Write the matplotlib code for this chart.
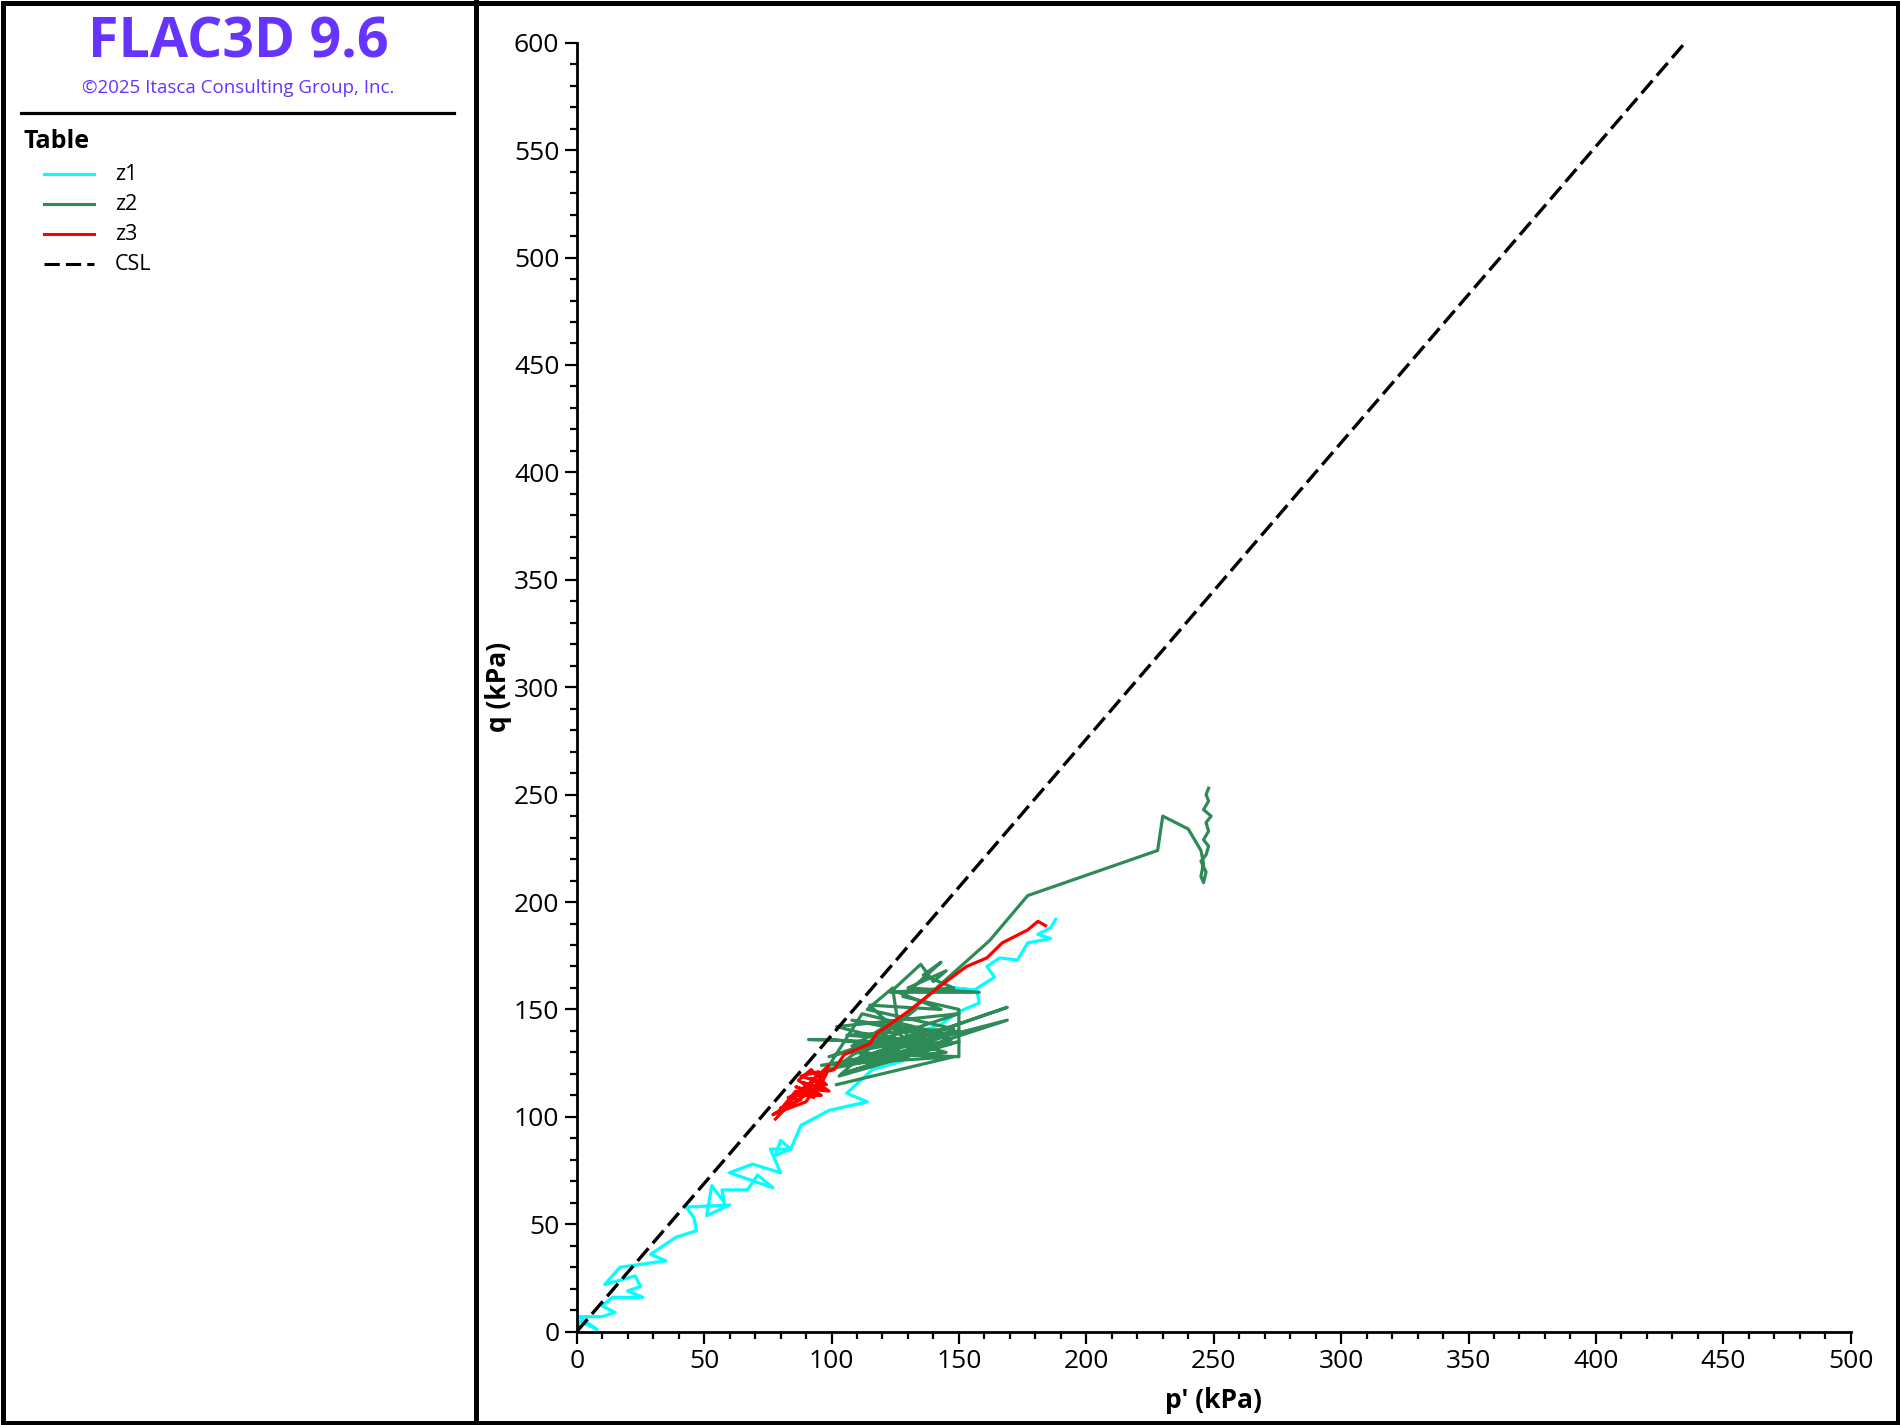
import matplotlib
matplotlib.use("Agg")
from matplotlib import pyplot as plt
from matplotlib.lines import Line2D
from matplotlib.patches import Rectangle
from matplotlib.ticker import MultipleLocator

# stress path data (p' and q in kPa)
z1_p = [0, 1, 8, 1, 10, 15, 10, 14, 26, 20, 25, 23, 11, 17, 35, 29, 39, 47, 46, 43,
        60, 51, 53, 58, 57, 67, 71, 77, 60, 69, 80, 76, 84, 78, 80, 84, 88, 99, 114,
        106, 116, 128, 136, 130, 143, 150, 158, 157, 148, 156, 164, 161, 166, 173,
        177, 186, 181, 186, 188]
z1_q = [0, 5, 1, 7, 7, 9, 12, 16, 16, 19, 21, 26, 22, 30, 33, 36, 44, 47, 53, 58,
        59, 54, 68, 60, 66, 66, 73, 67, 74, 78, 74, 85, 85, 82, 89, 85, 96, 103, 107,
        111, 122, 126, 140, 138, 143, 149, 153, 159, 160, 159, 165, 170, 174, 173,
        181, 183, 185, 188, 192]

z2_p = [102, 148, 96, 147, 91, 100, 135, 102, 150, 99, 138, 108, 147, 104, 169, 110,
        169, 103, 125, 124, 129, 106, 148, 114, 124, 126, 136, 115, 143, 124, 135,
        140, 145, 130, 158, 123, 148, 136, 143, 128, 150, 150, 106, 146, 112, 98,
        140, 118, 150, 108, 133, 120, 145, 105, 150, 103, 128, 162, 177,
        228, 230, 240, 245, 246, 245, 246, 247, 245, 247, 248, 246, 248, 247, 249,
        246, 248, 247, 248]
z2_q = [115, 128, 124, 134, 136, 136, 132, 142, 148, 128, 140, 145, 136, 120, 145, 127,
        151, 124, 144, 128, 136, 138, 141, 150, 160, 144, 128, 152, 150, 159, 171,
        163, 168, 160, 158, 158, 160, 166, 172, 156, 150, 128, 130, 138, 148, 122,
        132, 126, 140, 133, 150, 138, 130, 126, 135, 119, 146, 182, 203,
        224, 240, 234, 224, 218, 212, 209, 214, 219, 222, 226, 229, 233, 237, 240,
        243, 247, 250, 253]

z3_p = [78, 82, 77, 84, 80, 88, 83, 90, 86, 94, 89, 97, 92, 98, 88, 95, 91, 99, 93,
        85, 96, 87, 92, 97, 81, 90, 99, 79, 86, 93, 98, 95, 101, 105, 115, 118, 130,
        145, 153, 161, 167, 177, 181, 184]
z3_q = [99, 104, 101, 106, 104, 108, 109, 112, 114, 111, 116, 113, 118, 115, 119, 121,
        113, 112, 117, 110, 110, 117, 122, 116, 103, 107, 124, 102, 112, 109, 120,
        120, 122, 129, 134, 139, 149, 163, 170, 174, 181, 187, 191, 189]

csl_p = [0, 435]
csl_q = [0, 600]

series_labels = ["z1", "z2", "z3", "CSL"]
series_colors = ["#00FFFF", "#2E8B57", "#FF0000", "black"]

plt.rcParams["font.family"] = ["Open Sans", "DejaVu Sans"]

W, H = 1900, 1425
fig = plt.figure(figsize=(19, 14.25), dpi=100)


def fx(px):
    return px / W


def fy(py):
    return 1 - py / H


ax = fig.add_axes([fx(576.7), fy(1331.7), (1850.7 - 576.7) / W, (1331.7 - 42.7) / H])

csl_dash = (0, (5.0, 2.0))
ax.plot(z1_p, z1_q, color=series_colors[0], lw=2.3, zorder=2)
ax.plot(z2_p, z2_q, color=series_colors[1], lw=2.3, zorder=3)
ax.plot(z3_p, z3_q, color=series_colors[2], lw=2.3, zorder=4)
ax.plot(csl_p, csl_q, color=series_colors[3], lw=2.4, ls=csl_dash, zorder=5)

ax.set_xlim(0, 500)
ax.set_ylim(0, 600)
ax.xaxis.set_major_locator(MultipleLocator(50))
ax.xaxis.set_minor_locator(MultipleLocator(10))
ax.yaxis.set_major_locator(MultipleLocator(50))
ax.yaxis.set_minor_locator(MultipleLocator(10))
ax.spines["top"].set_visible(False)
ax.spines["right"].set_visible(False)
ax.spines["left"].set_linewidth(2)
ax.spines["bottom"].set_linewidth(2)
ax.tick_params(which="major", length=8.5, width=1.6, labelsize=19, pad=4)
ax.tick_params(which="minor", length=5, width=1.6)

ax.set_xlabel("p' (kPa)", fontsize=19, fontweight="bold", va="center")
ax.set_ylabel("q (kPa)", fontsize=19, fontweight="bold", va="center")
ax.xaxis.set_label_coords(0.5, -(1401 - 1331.7) / 1289)
ax.yaxis.set_label_coords((498 - 576.7) / 1274, 0.5)

# side panel: title, copyright and legend
fig.text(fx(238), fy(43), "FLAC3D 9.6", color="#6633FF", fontsize=40,
         fontweight="bold", ha="center", va="center")
fig.text(fx(238), fy(88), "\u00a92025 Itasca Consulting Group, Inc.", color="#6633FF",
         fontsize=13.5, ha="center", va="center")
fig.add_artist(Line2D([fx(21), fx(454)], [fy(113), fy(113)], color="black", lw=2.3))
fig.text(fx(23), fy(141), "Table", fontsize=18, fontweight="bold", ha="left", va="center")

styles = ["-", "-", "-", csl_dash]
for i, (lab, col) in enumerate(zip(series_labels, series_colors)):
    yy = 174 + 30 * i
    fig.add_artist(Line2D([fx(44), fx(94)], [fy(yy), fy(yy)], color=col, lw=2.2,
                          ls=styles[i]))
    fig.text(fx(115), fy(yy), lab, fontsize=15.5, ha="left", va="center")

# frame and divider
fig.add_artist(Rectangle((fx(2.5), fy(1422.5)), fx(1895), 1420 / H,
                         transform=fig.transFigure, fill=False, lw=3.6, ec="black"))
fig.add_artist(Line2D([fx(475.5), fx(475.5)], [0, 1], color="black", lw=3.6))

plt.savefig("out.png", dpi=100)
